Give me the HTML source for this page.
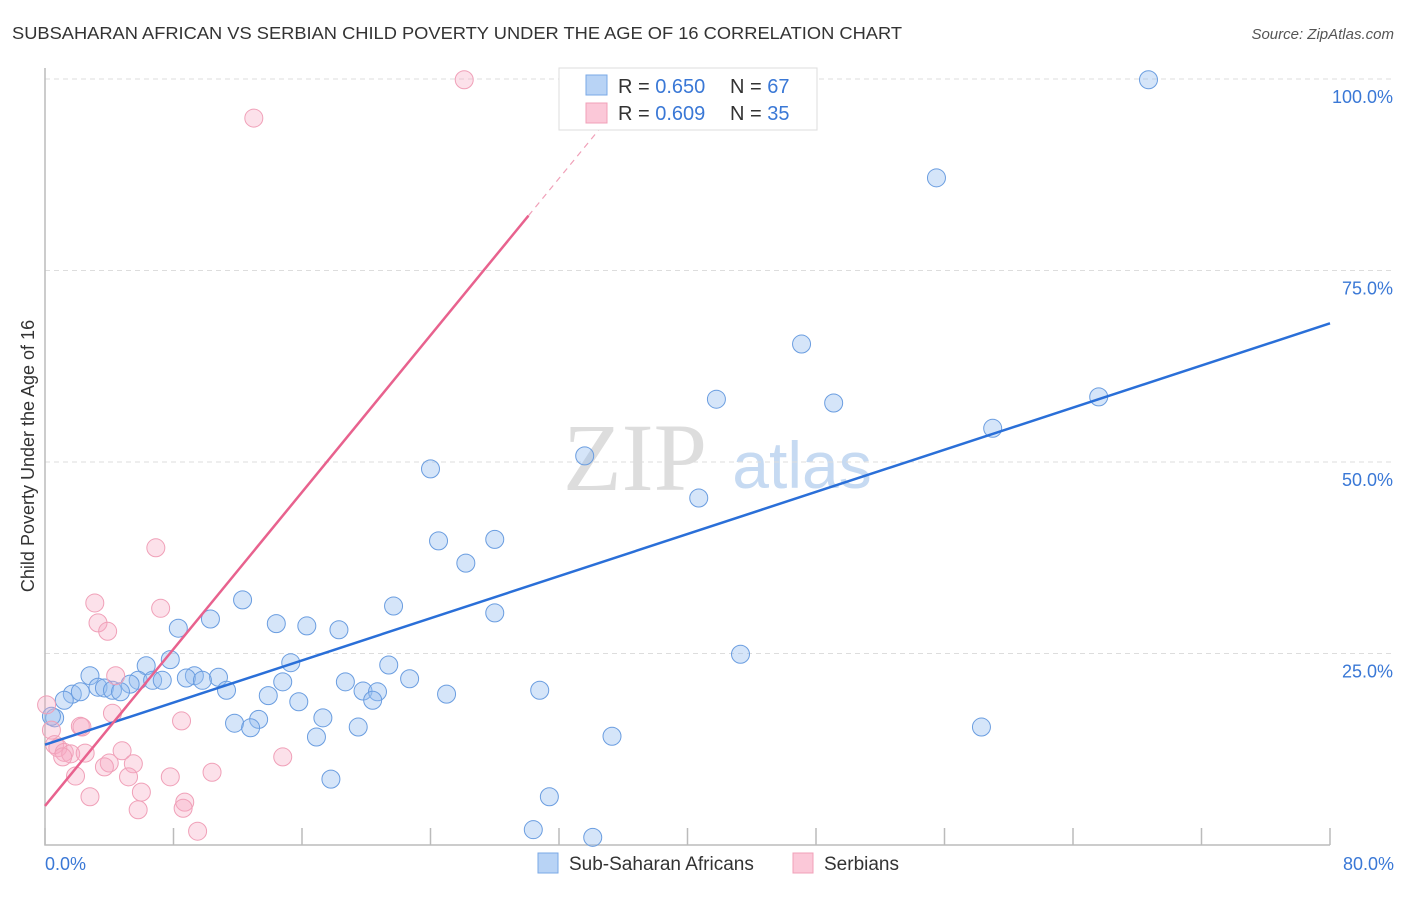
<!DOCTYPE html>
<html><head><meta charset="utf-8"><style>
body{margin:0;background:#fff;font-family:"Liberation Sans",sans-serif}
</style></head><body>
<svg width="1406" height="892" xmlns="http://www.w3.org/2000/svg" id="svg">
<text x="12" y="39" font-size="17.5" fill="#333" textLength="890" lengthAdjust="spacingAndGlyphs">SUBSAHARAN AFRICAN VS SERBIAN CHILD POVERTY UNDER THE AGE OF 16 CORRELATION CHART</text>
<text x="1394" y="39" font-size="15" fill="#555" font-style="italic" text-anchor="end">Source: ZipAtlas.com</text>
<text transform="translate(34,456) rotate(-90)" font-size="18" fill="#333" text-anchor="middle">Child Poverty Under the Age of 16</text>
<g><text x="635" y="490" font-size="96" font-family="Liberation Serif,serif" fill="#ddd" text-anchor="middle">ZIP</text><text x="802" y="488" font-size="66" fill="#c6daf2" text-anchor="middle">atlas</text></g>
<g id="grid"></g><g id="marks"></g>
<g>
<rect x="559" y="68" width="258" height="62" fill="#fff" stroke="#ddd"/>
<rect x="586" y="75" width="21" height="20" fill="#b8d3f5" stroke="#7aa8e6"/>
<rect x="586" y="103" width="21" height="20" fill="#fbc8d8" stroke="#f0a0b8"/>
<text x="618" y="93" font-size="20" fill="#333">R = <tspan fill="#3a78d6">0.650</tspan></text>
<text x="730" y="93" font-size="20" fill="#333">N = <tspan fill="#3a78d6">67</tspan></text>
<text x="618" y="120" font-size="20" fill="#333">R = <tspan fill="#3a78d6">0.609</tspan></text>
<text x="730" y="120" font-size="20" fill="#333">N = <tspan fill="#3a78d6">35</tspan></text>
</g>
<g>
<rect x="538" y="853" width="20" height="20" fill="#b8d3f5" stroke="#7aa8e6"/>
<text x="569" y="870" font-size="19" fill="#333">Sub-Saharan Africans</text>
<rect x="793" y="853" width="20" height="20" fill="#fbc8d8" stroke="#f0a0b8"/>
<text x="824" y="870" font-size="19" fill="#333">Serbians</text>
</g>
</svg>
<script>
const blueX=[68.7,55.5,47.1,41.8,49.1,65.6,59.0,33.6,24.0,40.7,24.5,28.0,26.2,12.3,21.7,28.0,10.3,8.3,14.4,16.3,18.3,43.3,7.8,15.3,6.3,21.4,2.8,9.3,10.8,5.8,6.7,7.3,8.8,9.8,14.8,18.7,22.7,5.3,3.3,3.7,4.2,4.7,11.3,30.8,19.8,20.7,1.7,2.2,25.0,13.9,1.2,20.4,15.8,17.3,13.3,11.8,12.8,19.5,58.3,16.9,35.3,0.6,0.4,17.8,31.4,30.4,34.1];
const blueY=[99.9,87.1,65.4,58.2,57.7,58.5,54.4,50.8,49.1,45.3,39.7,39.9,36.8,32.0,31.2,30.3,29.5,28.3,28.9,28.6,28.1,24.9,24.2,23.8,23.4,23.5,22.1,22.1,21.9,21.5,21.5,21.5,21.8,21.5,21.3,21.3,21.7,21.0,20.6,20.5,20.2,20.0,20.2,20.2,20.1,20.0,19.7,20.0,19.7,19.5,18.9,18.9,18.7,16.6,16.4,15.9,15.3,15.4,15.4,14.1,14.2,16.6,16.8,8.6,6.3,2.0,1.0];
const pinkX=[26.1,13.0,6.9,3.1,7.2,3.3,3.9,4.4,4.2,8.5,2.2,0.1,0.4,2.3,0.6,0.8,1.2,1.6,1.1,2.5,4.8,14.8,4.0,3.7,5.5,10.4,1.9,5.2,7.8,6.0,2.8,8.7,8.6,5.8,9.5];
const pinkY=[99.9,94.9,38.8,31.6,30.9,29.0,27.9,22.1,17.2,16.2,15.5,18.3,15.0,15.4,13.1,12.7,12.1,11.9,11.5,12.0,12.3,11.5,10.7,10.2,10.6,9.5,9.0,8.9,8.9,6.9,6.3,5.6,4.8,4.6,1.8];
const blueTrend=[13.1,68.1]; // y at x=0 and x=80
const pinkTrend=[5.1,2.56]; // intercept, slope
const yTicks=[25,50,75,100];
const xTicks=[0,8,16,24,32,40,48,56,64,72,80];
const X=v=>45+v/80*1285, Y=v=>845-v/100*766;
const NS="http://www.w3.org/2000/svg";
const g=document.getElementById('grid'), m=document.getElementById('marks');
function mk(p,t,a){const e=document.createElementNS(NS,t);for(const k in a)e.setAttribute(k,a[k]);p.appendChild(e);return e;}
yTicks.forEach(t=>{
 const l=mk(g,'line',{x1:45,x2:1394,y1:Y(t),y2:Y(t),stroke:'#ddd','stroke-dasharray':'5,4'});
 
 
 const tx=mk(g,'text',{x:1393,y:Y(t)+24,'font-size':18,fill:'#3a78d6','text-anchor':'end'});
 tx.textContent=t.toFixed(1)+'%';
 
 
});
const ax=mk(g,'path',{d:'M45,68V845H1330',fill:'none',stroke:'#bbb','stroke-width':1.5});


xTicks.forEach(t=>{
 const l=mk(g,'line',{x1:X(t),x2:X(t),y1:828,y2:845,stroke:'#bbb','stroke-width':1.5});
 
 
});
[[0,'0.0%',45,'start'],[80,'80.0%',1394,'end']].forEach(a=>{
 const tx=mk(g,'text',{x:a[2],y:870,'font-size':18,fill:'#3a78d6','text-anchor':a[3]});
 tx.textContent=a[1];
 
 
});
blueX.forEach((v,i)=>{
 const c=mk(m,'circle',{cx:X(v),cy:Y(blueY[i]),r:9,fill:'rgba(150,190,240,0.4)',stroke:'#6a9de0','stroke-width':1});
 
 
});
pinkX.forEach((v,i)=>{
 const c=mk(m,'circle',{cx:X(v),cy:Y(pinkY[i]),r:9,fill:'rgba(245,170,195,0.35)',stroke:'#f0a0b8','stroke-width':1});
 
 
});
const bl=mk(m,'line',{x1:X(0),y1:Y(blueTrend[0]),x2:X(80),y2:Y(blueTrend[1]),stroke:'#2a6fd8','stroke-width':2.5});


const pEnd=30.1, pDash=37.2;
const pl=mk(m,'line',{x1:X(0),y1:Y(pinkTrend[0]),x2:X(pEnd),y2:Y(pinkTrend[0]+pinkTrend[1]*pEnd),stroke:'#e8628e','stroke-width':2.5});


const pd=mk(m,'line',{x1:X(pEnd),y1:Y(pinkTrend[0]+pinkTrend[1]*pEnd),x2:X(pDash),y2:Y(pinkTrend[0]+pinkTrend[1]*pDash),stroke:'#f0a0b8','stroke-width':1.2,'stroke-dasharray':'6,5'});


</script>
</body></html>
